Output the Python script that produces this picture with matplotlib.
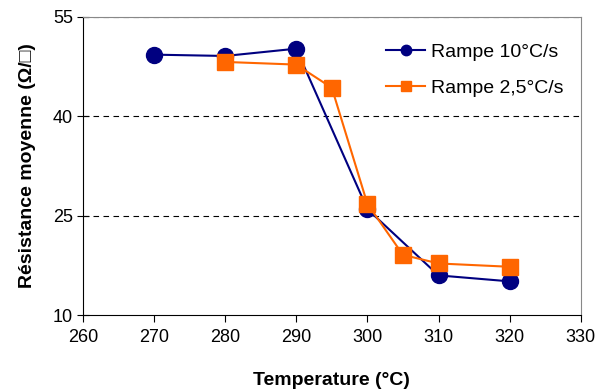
import numpy as np
import matplotlib
matplotlib.use("Agg")
import matplotlib.pyplot as plt

plt.rcParams["font.family"] = ["Liberation Sans", "DejaVu Sans"]

temp_fast = [270, 280, 290, 300, 310, 320]
res_fast = [49.3, 49.1, 50.2, 26.0, 16.0, 15.1]
temp_slow = [280, 290, 295, 300, 305, 310, 320]
res_slow = [48.2, 47.8, 44.3, 26.8, 19.1, 17.8, 17.3]
labels = ["Rampe 10°C/s", "Rampe 2,5°C/s"]

fig = plt.figure(figsize=(6, 3.92), dpi=100)
ax = fig.add_axes([0.138, 0.196, 0.83, 0.761])

for y in (25, 40, 55):
    ax.axhline(y, color="black", lw=0.8, ls=(0, (5, 4)), zorder=1)

ax.plot(temp_fast, res_fast, "-o", color="#000080", lw=1.5, ms=11.5, label=labels[0], zorder=3)
ax.plot(temp_slow, res_slow, "-s", color="#FF6600", lw=1.5, ms=11, label=labels[1], zorder=4)

ax.set_xlim(260, 330)
ax.set_ylim(10, 55)
ax.set_xticks(np.arange(260, 331, 10))
ax.set_yticks([10, 25, 40, 55])
ax.tick_params(axis="x", direction="out", length=5, labelsize=13, pad=5)
ax.tick_params(axis="y", direction="inout", length=8, labelsize=13, pad=3)
for s in ("top", "right"):
    ax.spines[s].set_color("#888888")
ax.set_xlabel("Temperature (°C)", fontsize=14, fontweight="bold", labelpad=19)
ax.set_ylabel("Résistance moyenne (Ω/□)", fontsize=14, fontweight="bold", labelpad=12)
ax.legend(loc="upper right", bbox_to_anchor=(1.0, 0.97), frameon=False, fontsize=14,
          handlelength=2.0, labelspacing=0.95, handletextpad=0.3, markerscale=0.65)

fig.savefig("out.png", dpi=100)
